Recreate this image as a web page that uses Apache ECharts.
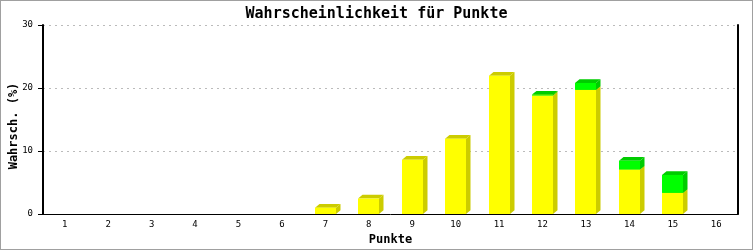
<!DOCTYPE html>
<html>
<head>
<meta charset="utf-8">
<script src="https://cdn.jsdelivr.net/npm/echarts@6/dist/echarts.min.js"></script>
<style>
html,body{margin:0;padding:0;background:#fff;}
#c{width:753px;height:250px;box-sizing:border-box;border:1px solid #a0a0a0;}
</style>
</head>
<body>
<div id="c"></div>
<script>
const categories = ['1','2','3','4','5','6','7','8','9','10','11','12','13','14','15','16'];
const yellowValues = [0,0,0,0,0,0,1.0,2.45,8.6,11.95,21.95,18.8,19.7,7.05,3.35,0];
const greenValues  = [0,0,0,0,0,0,0,0,0,0,0,0.15,1.1,1.4,2.85,0];
const yTicks = [0,10,20,30];

const titleText = 'Wahrscheinlichkeit für Punkte';
const xName = 'Punkte';
const yName = 'Wahrsch. (%)';

const FONT = '"DejaVu Sans Mono", "Liberation Mono", monospace';

function layer(base, vals){
  const out = [];
  vals.forEach((v,i)=>{ out.push([i, base[i], base[i]+v]); });
  return out;
}
const zeros = categories.map(()=>0);
const yellowData = layer(zeros, yellowValues);
const greenData = layer(yellowValues, greenValues);

function makeRender(front, dark){
  return function(params, api){
    const x = api.value(0), b = api.value(1), t = api.value(2);
    if (!(t > b)) return null;
    const p0 = api.coord([x, b]);
    const p1 = api.coord([x, t]);
    const bw = api.size([1,0])[0]*0.485;
    const left = Math.round(p0[0]-bw/2);
    const right = left + Math.round(bw);
    const dx = 4.5, dy = 3.7;
    const yb = p0[1], yt = p1[1];
    return {
      type:'group',
      children:[
        {type:'polygon', shape:{points:[[right,yt],[right+dx,yt-dy],[right+dx,yb-dy],[right,yb]]}, style:{fill:dark}},
        {type:'polygon', shape:{points:[[left,yt],[left+dx,yt-dy],[right+dx,yt-dy],[right,yt]]}, style:{fill:dark}},
        {type:'rect', shape:{x:left, y:yt, width:right-left, height:yb-yt}, style:{fill:front}}
      ]
    };
  };
}

const chart = echarts.init(document.getElementById('c'), null, {renderer:'canvas'});
chart.setOption({
  backgroundColor:'#ffffff',
  animation:false,
  title:{
    text:titleText, left:'center', top:1,
    textStyle:{fontFamily:FONT, fontSize:15, fontWeight:'bold', color:'#000'}
  },
  graphic:[{
    type:'text', x:13, y:125, rotation:Math.PI/2,
    style:{text:yName, fontFamily:FONT, fontSize:12, fontWeight:'bold', fill:'#000',
      align:'center', verticalAlign:'middle'}
  }],
  grid:{left:42, right:14, top:24, bottom:35, containLabel:false, outerBoundsMode:'none'},
  xAxis:{
    type:'category', data:categories, boundaryGap:true,
    name:xName, nameLocation:'middle', nameGap:20,
    nameTextStyle:{fontFamily:FONT, fontSize:12, fontWeight:'bold', color:'#000'},
    axisLine:{lineStyle:{color:'#000', width:1}},
    axisTick:{show:false},
    axisLabel:{fontFamily:FONT, fontSize:9, color:'#000', margin:6},
    splitLine:{show:false}
  },
  yAxis:[{
    type:'value', min:0, max:30, interval:10,
    axisLine:{show:true, lineStyle:{color:'#000', width:2}},
    axisTick:{show:true, length:5, lineStyle:{color:'#000'}},
    axisLabel:{fontFamily:FONT, fontSize:9, color:'#000', margin:10,
      formatter:(v)=> yTicks.includes(v) ? String(v) : ''},
    splitLine:{show:true, lineStyle:{color:'#bbbbbb', type:[2,4], width:1}}
  },{
    type:'value', min:0, max:30, interval:10, position:'right',
    axisLine:{show:true, lineStyle:{color:'#000', width:2}},
    axisTick:{show:false}, axisLabel:{show:false}, splitLine:{show:false}
  }],
  series:[
    {type:'custom', name:'gelb', renderItem:makeRender('#ffff00','#cccc00'), data:yellowData, encode:{x:0,y:[1,2]}, clip:false},
    {type:'custom', name:'gruen', renderItem:makeRender('#00ff00','#00cc00'), data:greenData, encode:{x:0,y:[1,2]}, clip:false}
  ]
});
</script>
</body>
</html>
